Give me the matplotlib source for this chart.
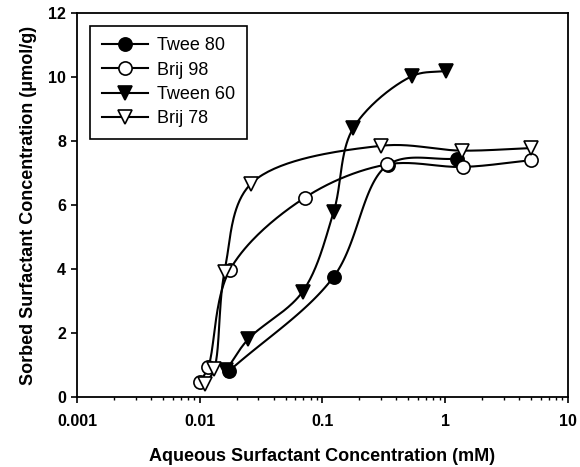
#!/usr/bin/env python3
import matplotlib
matplotlib.use('Agg')
import matplotlib.pyplot as plt
from matplotlib.ticker import LogLocator, FixedLocator, NullFormatter
import numpy as np

plt.rcParams['font.family'] = ['Liberation Sans', 'DejaVu Sans']

# data (x in mM, y in umol/g)
tween80_x = [0.0172, 0.123, 0.34, 1.25]
tween80_y = [0.80, 3.75, 7.25, 7.45]
brij98_x = [0.0100, 0.0117, 0.0175, 0.0718, 0.338, 1.40, 5.0]
brij98_y = [0.46, 0.93, 3.96, 6.23, 7.27, 7.19, 7.40]
tween60_x = [0.0165, 0.0247, 0.0688, 0.123, 0.178, 0.538, 1.02]
tween60_y = [0.85, 1.80, 3.29, 5.77, 8.40, 10.03, 10.19]
brij78_x = [0.0111, 0.0131, 0.0159, 0.0262, 0.298, 1.36, 5.0]
brij78_y = [0.40, 0.87, 3.91, 6.67, 7.85, 7.70, 7.78]

labels = ['Twee 80', 'Brij 98', 'Tween 60', 'Brij 78']
x_ticks = [0.001, 0.01, 0.1, 1, 10]
x_tick_labels = ['0.001', '0.01', '0.1', '1', '10']
y_ticks = [0, 2, 4, 6, 8, 10, 12]


def smooth(xs, ys, n=40):
    # centripetal catmull-rom through the points, done in log-x screen space
    u = (np.log10(xs) + 3) / 4.0
    v = np.asarray(ys) / 12.0 * 0.78
    P = np.column_stack([u, v])
    P = np.vstack([2 * P[0] - P[1], P, 2 * P[-1] - P[-2]])
    out = []
    for i in range(1, len(P) - 2):
        p0, p1, p2, p3 = P[i - 1], P[i], P[i + 1], P[i + 2]
        t0 = 0.0
        t1 = t0 + np.linalg.norm(p1 - p0) ** 0.5 + 1e-9
        t2 = t1 + np.linalg.norm(p2 - p1) ** 0.5 + 1e-9
        t3 = t2 + np.linalg.norm(p3 - p2) ** 0.5 + 1e-9
        t = np.linspace(t1, t2, n)[:, None]
        a1 = (t1 - t) / (t1 - t0) * p0 + (t - t0) / (t1 - t0) * p1
        a2 = (t2 - t) / (t2 - t1) * p1 + (t - t1) / (t2 - t1) * p2
        a3 = (t3 - t) / (t3 - t2) * p2 + (t - t2) / (t3 - t2) * p3
        b1 = (t2 - t) / (t2 - t0) * a1 + (t - t0) / (t2 - t0) * a2
        b2 = (t3 - t) / (t3 - t1) * a2 + (t - t1) / (t3 - t1) * a3
        c = (t2 - t) / (t2 - t1) * b1 + (t - t1) / (t2 - t1) * b2
        out.append(c)
    c = np.vstack(out)
    return 10 ** (c[:, 0] * 4 - 3), c[:, 1] / 0.78 * 12


fig = plt.figure(figsize=(5.8, 4.67), dpi=100)
ax = fig.add_axes([0.133, 0.150, 0.846, 0.822])

series = [
    (tween80_x, tween80_y, 'o', 'black'),
    (brij98_x, brij98_y, 'o', 'white'),
    (tween60_x, tween60_y, 'v', 'black'),
    (brij78_x, brij78_y, 'v', 'white'),
]

handles = []
for (xs, ys, m, fc), lab in zip(series, labels):
    sx, sy = smooth(xs, ys)
    ax.plot(sx, sy, 'k-', lw=1.5, zorder=2)
    ax.plot(xs, ys, linestyle='none', marker=m, ms=9.5, mfc=fc, mec='black',
            mew=1.2, zorder=3)
    h, = ax.plot([], [], 'k-', lw=1.5, marker=m, ms=9.5, mfc=fc, mec='black',
                 mew=1.2, label=lab)
    handles.append(h)

ax.set_xscale('log')
ax.set_xlim(0.001, 10)
ax.set_ylim(0, 12)
ax.xaxis.set_major_locator(FixedLocator(x_ticks))
ax.set_xticklabels(x_tick_labels)
ax.xaxis.set_minor_locator(LogLocator(base=10, subs=np.arange(2, 10)))
ax.xaxis.set_minor_formatter(NullFormatter())
ax.set_yticks(y_ticks)

for lbl in ax.get_xticklabels() + ax.get_yticklabels():
    lbl.set_fontweight('bold')
    lbl.set_fontsize(11.5)

ax.tick_params(which='major', direction='out', length=4, width=1.2, pad=8)
ax.tick_params(which='minor', direction='out', length=2.5, width=1)
ax.tick_params(axis='y', pad=4)
for s in ax.spines.values():
    s.set_linewidth(1.3)

ax.set_xlabel('Aqueous Surfactant Concentration (mM)', fontweight='bold',
              fontsize=13, labelpad=14)
ax.set_ylabel('Sorbed Surfactant Concentration (\u03bcmol/g)', fontweight='bold',
              fontsize=13, labelpad=8)

leg = ax.legend(handles=handles, loc='upper left', fontsize=13,
                fancybox=False, edgecolor='black', framealpha=1,
                borderaxespad=0.7, handlelength=2.6, labelspacing=0.4,
                borderpad=0.65, handletextpad=0.5)
leg.get_frame().set_linewidth(1.2)

fig.savefig('out.png', dpi=100)
